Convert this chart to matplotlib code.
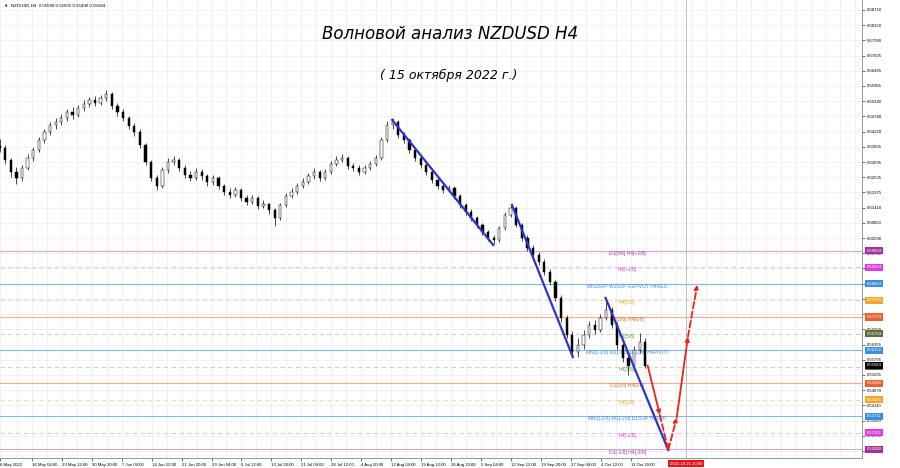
import matplotlib.pyplot as plt
from matplotlib.transforms import blended_transform_factory

plt.rcParams['font.family'] = ['Liberation Sans', 'DejaVu Sans']

# daily candles (6 May .. 14 Oct 2022)
first_open = 0.6370
closes = [0.6361, 0.6317, 0.6273, 0.6251, 0.6288, 0.6324, 0.6354, 0.6391, 0.6421, 0.6446,
          0.6457, 0.6472, 0.6494, 0.6483, 0.6509, 0.6524, 0.6539, 0.6528, 0.6546, 0.6561,
          0.6516, 0.6494, 0.6472, 0.6443, 0.6421, 0.6372, 0.6310, 0.6251, 0.6221, 0.6280,
          0.6310, 0.6317, 0.6288, 0.6262, 0.6251, 0.6273, 0.6258, 0.6236, 0.6251, 0.6221,
          0.6199, 0.6188, 0.6206, 0.6177, 0.6162, 0.6177, 0.6147, 0.6155, 0.6133, 0.6103,
          0.6151, 0.6184, 0.6199, 0.6221, 0.6236, 0.6258, 0.6273, 0.6251, 0.6273, 0.6302,
          0.6317, 0.6324, 0.6295, 0.6288, 0.6273, 0.6288, 0.6302, 0.6324, 0.6391, 0.6446,
          0.6457, 0.6409, 0.6391, 0.6354, 0.6324, 0.6299, 0.6273, 0.6243, 0.6221, 0.6207,
          0.6214, 0.6184, 0.6151, 0.6125, 0.6103, 0.6077, 0.6051, 0.6029, 0.6022, 0.6066,
          0.6114, 0.6140, 0.6077, 0.6029, 0.5993, 0.5967, 0.5941, 0.5904, 0.5867, 0.5808,
          0.5734, 0.5672, 0.5609, 0.5635, 0.5672, 0.5708, 0.5690, 0.5734, 0.5764, 0.5708,
          0.5635, 0.5587, 0.5557, 0.5616, 0.5646, 0.5558]
highs = [0.6395, 0.6372, 0.6325, 0.6290, 0.6300, 0.6338, 0.6366, 0.6402, 0.6433, 0.6458,
         0.6472, 0.6488, 0.6505, 0.6512, 0.6520, 0.6538, 0.6551, 0.6553, 0.6558, 0.6575,
         0.6568, 0.6527, 0.6505, 0.6480, 0.6452, 0.6430, 0.6380, 0.6318, 0.6262, 0.6292,
         0.6325, 0.6332, 0.6326, 0.6297, 0.6275, 0.6286, 0.6284, 0.6266, 0.6262, 0.6258,
         0.6230, 0.6212, 0.6218, 0.6214, 0.6186, 0.6189, 0.6183, 0.6168, 0.6160, 0.6140,
         0.6160, 0.6195, 0.6212, 0.6232, 0.6250, 0.6270, 0.6288, 0.6280, 0.6284, 0.6315,
         0.6330, 0.6340, 0.6332, 0.6305, 0.6298, 0.6300, 0.6315, 0.6335, 0.6402, 0.6460,
         0.6472, 0.6465, 0.6420, 0.6400, 0.6362, 0.6332, 0.6310, 0.6280, 0.6252, 0.6230,
         0.6225, 0.6220, 0.6192, 0.6160, 0.6135, 0.6112, 0.6085, 0.6060, 0.6040, 0.6075,
         0.6125, 0.6155, 0.6148, 0.6085, 0.6040, 0.6005, 0.5978, 0.5952, 0.5915, 0.5875,
         0.5818, 0.5745, 0.5685, 0.5660, 0.5690, 0.5722, 0.5725, 0.5748, 0.5805, 0.5775,
         0.5718, 0.5648, 0.5600, 0.5630, 0.5680, 0.5660]
lows = [0.6348, 0.6302, 0.6255, 0.6228, 0.6238, 0.6280, 0.6312, 0.6345, 0.6380, 0.6410,
        0.6431, 0.6445, 0.6462, 0.6470, 0.6475, 0.6498, 0.6512, 0.6515, 0.6520, 0.6535,
        0.6505, 0.6481, 0.6460, 0.6430, 0.6405, 0.6360, 0.6298, 0.6238, 0.6205, 0.6212,
        0.6270, 0.6298, 0.6276, 0.6250, 0.6238, 0.6242, 0.6245, 0.6222, 0.6226, 0.6210,
        0.6188, 0.6176, 0.6180, 0.6166, 0.6150, 0.6154, 0.6135, 0.6138, 0.6118, 0.6072,
        0.6095, 0.6142, 0.6175, 0.6190, 0.6212, 0.6228, 0.6248, 0.6240, 0.6244, 0.6265,
        0.6294, 0.6308, 0.6285, 0.6276, 0.6262, 0.6265, 0.6280, 0.6294, 0.6318, 0.6384,
        0.6430, 0.6398, 0.6378, 0.6342, 0.6312, 0.6286, 0.6262, 0.6232, 0.6210, 0.6195,
        0.6198, 0.6172, 0.6140, 0.6114, 0.6092, 0.6065, 0.6040, 0.6018, 0.6008, 0.6015,
        0.6058, 0.6105, 0.6068, 0.6018, 0.5982, 0.5955, 0.5930, 0.5892, 0.5855, 0.5796,
        0.5720, 0.5658, 0.5585, 0.5590, 0.5620, 0.5660, 0.5676, 0.5682, 0.5725, 0.5695,
        0.5620, 0.5570, 0.5522, 0.5545, 0.5605, 0.5548]

# Murrey / pivot levels
levels = [0.59824, 0.59214, 0.58604, 0.57993, 0.57373, 0.56763, 0.56152,
          0.55542, 0.54932, 0.54321, 0.53711, 0.53101, 0.52490]
level_names = ["D1[5/8] H4[+2/8]", "H4[+1/8]", "MN1SUP W1SUP D1PIVOT H4RES", "H4[7/8]",
               "D1[3/8] H4[6/8]", "H4[5/8]", "MN1[-1/8] W1[-1/8] D1[2/8] H4PIVOT", "H4[3/8]",
               "D1[1/8] H4[2/8]", "H4[1/8]", "MN1[-2/8] W1[-2/8] D1SUP H4SUP", "H4[-1/8]",
               "D1[-1/8] H4[-2/8]"]
level_kinds = ["purple", "magenta", "blue", "orange", "red", "green", "blue",
               "green", "red", "orange", "blue", "magenta", "purple"]
current_price = 0.55584

# wave lines (bar index, price)
trend_bars = [(419, 527), (547, 612), (647, 714)]
trend_prices = [(0.6465, 0.6003), (0.6151, 0.5590), (0.5808, 0.5246)]
forecast_bars = [692, 705, 714, 723, 735, 745]
forecast_prices = [0.5558, 0.5376, 0.5246, 0.5365, 0.5664, 0.5856]
forecast_styles = ["-", "--", "--", "-", "--"]

price_ticks = [0.68710, 0.68150, 0.67590, 0.67025, 0.66465, 0.65905, 0.65340, 0.64780,
               0.64220, 0.63655, 0.63095, 0.62535, 0.61975, 0.61410, 0.60850, 0.60290,
               0.59730, 0.59170, 0.58605, 0.58045, 0.57480, 0.56920, 0.56355, 0.55795,
               0.55235, 0.54670, 0.54110, 0.53550, 0.52990, 0.52425]
time_labels = ["6 May 2022", "16 May 04:00", "23 May 12:00", "30 May 20:00", "7 Jun 04:00",
               "14 Jun 12:00", "21 Jun 20:00", "29 Jun 04:00", "6 Jul 12:00", "13 Jul 20:00",
               "21 Jul 04:00", "28 Jul 12:00", "4 Aug 20:00", "12 Aug 04:00", "19 Aug 12:00",
               "26 Aug 20:00", "5 Sep 04:00", "12 Sep 12:00", "19 Sep 20:00", "27 Sep 04:00",
               "4 Oct 12:00", "11 Oct 20:00"]
time_label_bars = [0] + [34 + 32 * k for k in range(len(time_labels) - 1)]
marker_bar = 733
marker_label = "2022.10.21 20:00"

styles = {
    "purple": ("#d9a6d9", "-", "#a4329c", "#a93aa0"),
    "magenta": ("#e6c2e6", (0, (4, 3)), "#e03ae0", "#e040e0"),
    "blue": ("#84b7e8", "-", "#3b8de0", "#3b8de0"),
    "orange": ("#f0d8b0", (0, (4, 3)), "#f3a52a", "#e8a53a"),
    "red": ("#f3ad90", "-", "#e8612e", "#e36a35"),
    "green": ("#cfcfcf", (0, (4, 3)), "#5d6e3e", "#6aa040"),
}

fig = plt.figure(figsize=(9, 4.68), dpi=100)
ax = fig.add_axes([0, 10 / 468, 862 / 900, 458 / 468])
ax.set_xlim(0, 921)
ax.set_ylim(0.52166, 0.69079)

# grid
ax.set_yticks(price_ticks)
ax.set_yticklabels(["%.5f" % p for p in price_ticks])
ax.set_xticks(time_label_bars)
ax.set_xticklabels(time_labels)
ax.set_xticks([18 + 16 * k for k in range(57)], minor=True)
ax.grid(True, which="both", color="#ececec", lw=0.5)
ax.set_axisbelow(True)
ax.yaxis.tick_right()
ax.tick_params(axis="y", labelsize=3.1, length=2, pad=1.5, width=0.4)
ax.tick_params(axis="x", labelsize=3.1, length=2, pad=1.5, width=0.4)
ax.tick_params(axis="x", which="minor", length=0)
for lbl in ax.get_xticklabels():
    lbl.set_ha("left")
for side in ("top", "left"):
    ax.spines[side].set_visible(False)
for side in ("right", "bottom"):
    ax.spines[side].set_color("#888888")
    ax.spines[side].set_linewidth(0.6)

# level lines and texts
ytrans = blended_transform_factory(ax.transAxes, ax.transData)
for price, name, kind in zip(levels, level_names, level_kinds):
    line_c, ls, bg, txt_c = styles[kind]
    ax.axhline(price, color=line_c, ls=ls, lw=0.8, zorder=1)
    ax.annotate(name, xy=(670, price), xytext=(0, -2), textcoords="offset points",
                ha="center", va="center", fontsize=3.6, color=txt_c, zorder=2)
    ax.annotate("%.5f" % price, xy=(1, price), xycoords=ytrans, xytext=(3.5, 0),
                textcoords="offset points", ha="left", va="center", fontsize=3.1,
                color="white", annotation_clip=False, zorder=6,
                bbox=dict(boxstyle="square,pad=0.35", fc=bg, ec="none"))
ax.annotate("%.5f" % current_price, xy=(1, current_price), xycoords=ytrans, xytext=(3.5, 0),
            textcoords="offset points", ha="left", va="center", fontsize=3.1,
            color="white", annotation_clip=False, zorder=7,
            bbox=dict(boxstyle="square,pad=0.35", fc="black", ec="none"))

# candles
opens = [first_open] + closes[:-1]
xs = [6 * d - 0.5 for d in range(len(closes))]
ax.vlines(xs, lows, highs, color="black", lw=0.5, zorder=3)
for x, o, c in zip(xs, opens, closes):
    face = "white" if c >= o else "black"
    ax.bar(x, max(abs(c - o), 0.0003), bottom=min(o, c), width=2.4,
           color=face, edgecolor="black", lw=0.35, zorder=4)

# wave lines
for (b0, b1), (p0, p1) in zip(trend_bars, trend_prices):
    ax.plot([b0, b1], [p0, p1], color="#2b35c8", lw=1.6, zorder=5)

for i, ls in enumerate(forecast_styles):
    ax.annotate("", xy=(forecast_bars[i + 1], forecast_prices[i + 1]),
                xytext=(forecast_bars[i], forecast_prices[i]),
                arrowprops=dict(arrowstyle="-|>", color="#e8241c", lw=1.3, ls=ls,
                                mutation_scale=6, shrinkA=0, shrinkB=0), zorder=5)

# time marker
ax.axvline(marker_bar, color="#b5b5b5", lw=0.6, zorder=1)
ax.annotate(marker_label, xy=(marker_bar, 0), xycoords=("data", "axes fraction"),
            xytext=(0, -4), textcoords="offset points", ha="center", va="center",
            fontsize=3.1, color="white", annotation_clip=False,
            bbox=dict(boxstyle="square,pad=0.35", fc="#e8141c", ec="none"))

# header and titles
fig.text(0.004, 0.992, "\u25bc  NZDUSD,H4  0.55598 0.55655 0.55490 0.55584",
         fontsize=3.2, va="top", ha="left")
ax.text(0.522, 0.925, "Волновой анализ NZDUSD H4", transform=ax.transAxes,
        fontsize=12, ha="center", va="center", family=["DejaVu Sans"], style="italic")
ax.text(0.52, 0.835, "( 15 октября 2022 г.)", transform=ax.transAxes,
        fontsize=9, ha="center", va="center", family=["DejaVu Sans"], style="italic")

fig.savefig("out.png", dpi=100)
